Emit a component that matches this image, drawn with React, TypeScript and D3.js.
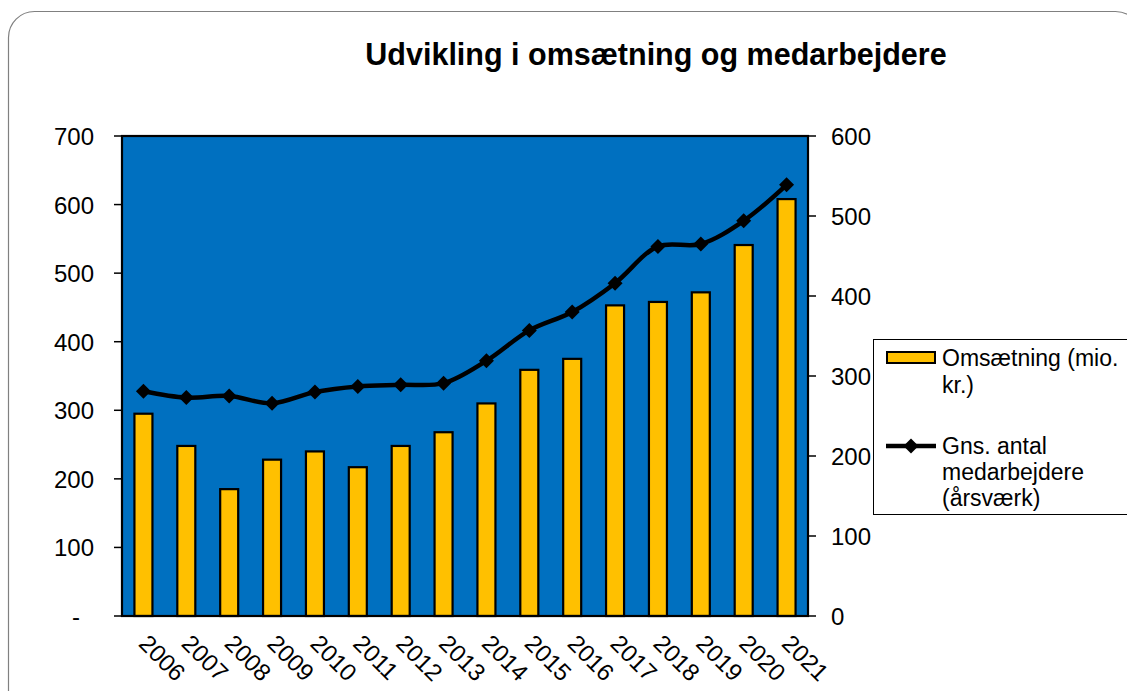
import React from "react";
import * as d3 from "d3";

const years = ["2006","2007","2008","2009","2010","2011","2012","2013","2014","2015","2016","2017","2018","2019","2020","2021"];
const omsaetning = [295, 248, 185, 228, 240, 217, 248, 268, 310, 359, 375, 453, 458, 472, 541, 608];
const medarbejdere = [281, 273, 275, 266, 280, 287, 289, 291, 319, 357, 380, 416, 462, 465, 494, 539];
const leftTicks = [0, 100, 200, 300, 400, 500, 600, 700];
const rightTicks = [0, 100, 200, 300, 400, 500, 600];
const legendLabels1 = ["Omsætning (mio.", "kr.)"];
const legendLabels2 = ["Gns. antal", "medarbejdere", "(årsværk)"];

const FONT = "'Liberation Sans', Arial, sans-serif";

export default function App() {
  const left = 122, right = 808, top = 136, bottom = 616;
  const x = d3.scaleBand<string>().domain(years).range([left, right]).paddingInner(0.58).paddingOuter(0.29);
  const yL = d3.scaleLinear().domain([0, 700]).range([bottom, top]);
  const yR = d3.scaleLinear().domain([0, 600]).range([bottom, top]);
  const cx = (y: string) => (x(y) as number) + x.bandwidth() / 2;
  const line = d3.line<number>().x((_, i) => cx(years[i])).y(d => yR(d)).curve(d3.curveCatmullRom.alpha(0.5));
  const diamond = (px: number, py: number, r: number) => `M${px},${py - r}L${px + r},${py}L${px},${py + r}L${px - r},${py}Z`;

  return (
    <svg width={1127} height={691} style={{ position: "absolute", left: 0, top: 0, background: "#fff" }} fontFamily={FONT}>
      <rect x={8.5} y={11.5} width={1133} height={720} rx={26} fill="#fff" stroke="#808080" strokeWidth={1.2} />
      <text x={656} y={65} textAnchor="middle" fontSize={30.5} fontWeight="bold" fill="#000">Udvikling i omsætning og medarbejdere</text>

      <rect x={left} y={top} width={right - left} height={bottom - top} fill="#0070C0" />
      {years.map((yr, i) => (
        <rect key={yr} x={x(yr)} y={yL(omsaetning[i])} width={x.bandwidth()} height={bottom - yL(omsaetning[i])} fill="#FFC000" stroke="#000" strokeWidth={2.2} />
      ))}
      <path d={line(medarbejdere) || ""} fill="none" stroke="#000" strokeWidth={4.5} />
      {years.map((yr, i) => (
        <path key={yr} d={diamond(cx(yr), yR(medarbejdere[i]), 7.5)} fill="#000" />
      ))}
      <rect x={left} y={top} width={right - left} height={bottom - top} fill="none" stroke="#000" strokeWidth={2.2} />

      {leftTicks.map(t => (
        <g key={"l" + t}>
          <line x1={114} x2={left} y1={yL(t)} y2={yL(t)} stroke="#000" strokeWidth={1.5} />
          <text x={t === 0 ? 80 : 94} y={yL(t) + 9} textAnchor="end" fontSize={24} fill="#000">{t === 0 ? "-" : t}</text>
        </g>
      ))}
      {rightTicks.map(t => (
        <g key={"r" + t}>
          <line x1={right} x2={816} y1={yR(t)} y2={yR(t)} stroke="#000" strokeWidth={1.5} />
          <text x={831} y={yR(t) + 9} textAnchor="start" fontSize={24} fill="#000">{t}</text>
        </g>
      ))}
      {years.map(yr => (
        <text key={"x" + yr} transform={`translate(${cx(yr) - 6},${645}) rotate(45)`} fontSize={24} fill="#000">{yr}</text>
      ))}

      <rect x={873.5} y={339.5} width={300} height={175} fill="#fff" stroke="#000" strokeWidth={1} />
      <rect x={887} y={352} width={48} height={11} fill="#FFC000" stroke="#000" strokeWidth={2} />
      {legendLabels1.map((t, i) => (
        <text key={t} x={942} y={366 + i * 27} fontSize={23} fill="#000">{t}</text>
      ))}
      <line x1={886} x2={936} y1={446} y2={446} stroke="#000" strokeWidth={4.5} />
      <path d={diamond(911, 446, 7.5)} fill="#000" />
      {legendLabels2.map((t, i) => (
        <text key={t} x={942} y={454 + i * 26} fontSize={23} fill="#000">{t}</text>
      ))}
    </svg>
  );
}
